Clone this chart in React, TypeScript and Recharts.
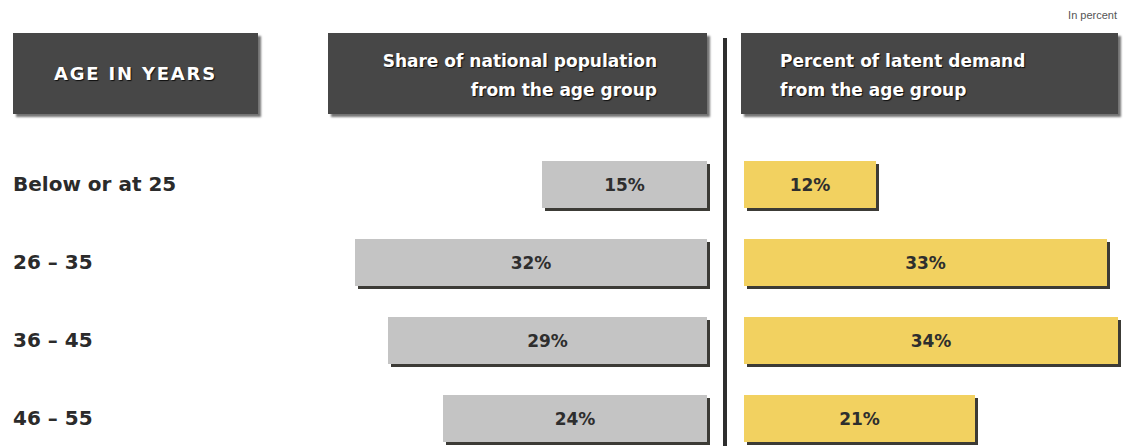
import React from 'react';
import { BarChart, Bar, XAxis, YAxis, LabelList } from 'recharts';

const ageGroups = ['Below or at 25', '26 – 35', '36 – 45', '46 – 55'];
const populationShare = [15, 32, 29, 24];
const latentDemand = [12, 33, 34, 21];

const headerAge = 'AGE IN YEARS';
const headerPopulation = ['Share of national population', 'from the age group'];
const headerDemand = ['Percent of latent demand', 'from the age group'];
const unitNote = 'In percent';

const FONT = '"DejaVu Sans", Verdana, sans-serif';
const SMALL_FONT = '"Liberation Sans", Arial, sans-serif';

const rows = ageGroups.map((age, i) => ({
  age,
  population: populationShare[i],
  demand: latentDemand[i],
}));

// bar with the dark drop shadow on its right and bottom edges
const ShadowBar = (fill: string) => (props: any) => {
  const { x, y, width, height } = props;
  const x0 = Math.min(x, x + width);
  const w = Math.abs(width);
  return (
    <g>
      <rect x={x0 + 3} y={y + 3} width={w} height={height} fill="#3c3b36" />
      <rect x={x0} y={y} width={w} height={height} fill={fill} />
    </g>
  );
};

const AgeTick = (props: any) => {
  const { y, payload } = props;
  return (
    <text x={13} y={y} dy={7} fill="#2b2b2b" fontSize={20} fontWeight="bold" fontFamily={FONT} textAnchor="start">
      {payload.value}
    </text>
  );
};

const headerBox: React.CSSProperties = {
  position: 'absolute',
  top: 33,
  height: 81,
  background: '#474747',
  boxShadow: '3px 3px 2px rgba(0,0,0,0.55)',
  color: '#fff',
  fontWeight: 'bold',
  fontSize: 17,
  fontFamily: FONT,
  textShadow: '1px 1px 1px rgba(0,0,0,0.8)',
  boxSizing: 'border-box',
};

const chartMargin = { top: 145, bottom: 3 };

export default function App() {
  return (
    <div
      style={{
        position: 'absolute',
        left: 0,
        top: 0,
        width: 1123,
        height: 446,
        overflow: 'hidden',
        background: '#fff',
        fontFamily: FONT,
      }}
    >
      <div style={{ position: 'absolute', right: 6, top: 9, fontSize: 11, color: '#555', fontFamily: SMALL_FONT }}>
        {unitNote}
      </div>

      <div
        style={{
          ...headerBox,
          left: 13,
          width: 245,
          display: 'flex',
          alignItems: 'center',
          justifyContent: 'center',
          fontSize: 18,
          letterSpacing: 1.8,
        }}
      >
        {headerAge}
      </div>
      <div style={{ ...headerBox, left: 328, width: 379, paddingRight: 50, paddingTop: 14, textAlign: 'right', lineHeight: '29px' }}>
        {headerPopulation.map((t) => (
          <div key={t}>{t}</div>
        ))}
      </div>
      <div style={{ ...headerBox, left: 741, width: 377, paddingLeft: 39, paddingTop: 14, textAlign: 'left', lineHeight: '29px' }}>
        {headerDemand.map((t) => (
          <div key={t}>{t}</div>
        ))}
      </div>

      <div style={{ position: 'absolute', left: 723, top: 38, width: 4, height: 420, background: '#2e2e2e' }} />

      <div style={{ position: 'absolute', left: 0, top: 0 }}>
        <BarChart
          width={720}
          height={460}
          data={rows}
          layout="vertical"
          margin={{ ...chartMargin, left: 13, right: 13 }}
        >
          <XAxis type="number" domain={[0, 35]} reversed hide />
          <YAxis type="category" dataKey="age" width={309} axisLine={false} tickLine={false} tick={<AgeTick />} />
          <Bar dataKey="population" barSize={47} shape={ShadowBar('#c4c4c4')} isAnimationActive={false}>
            <LabelList
              dataKey="population"
              position="center"
              formatter={(v: any) => `${v}%`}
              fill="#2e2e2e"
              fontSize={17}
              fontWeight="bold"
              fontFamily={FONT}
            />
          </Bar>
        </BarChart>
      </div>

      <div style={{ position: 'absolute', left: 730, top: 0 }}>
        <BarChart
          width={393}
          height={460}
          data={rows}
          layout="vertical"
          margin={{ ...chartMargin, left: 14, right: 5 }}
        >
          <XAxis type="number" domain={[0, 34]} hide />
          <YAxis type="category" dataKey="age" hide />
          <Bar dataKey="demand" barSize={47} shape={ShadowBar('#f2d160')} isAnimationActive={false}>
            <LabelList
              dataKey="demand"
              position="center"
              formatter={(v: any) => `${v}%`}
              fill="#2e2e2e"
              fontSize={17}
              fontWeight="bold"
              fontFamily={FONT}
            />
          </Bar>
        </BarChart>
      </div>
    </div>
  );
}
